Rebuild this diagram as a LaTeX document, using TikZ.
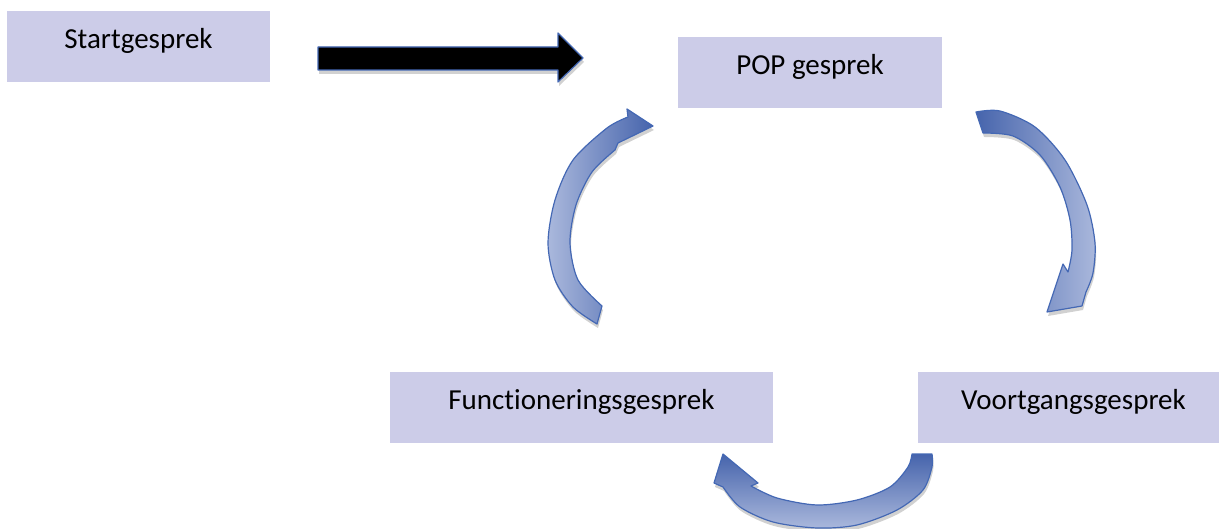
\documentclass[tikz,border=0pt]{standalone}
\usepackage{fontspec}
\setmainfont{Carlito}[Ligatures=NoCommon]
\usetikzlibrary{shadows}
\definecolor{lila}{RGB}{204,204,232}
\definecolor{donker}{RGB}{70,100,172}
\definecolor{licht}{RGB}{170,184,220}
\definecolor{rand}{RGB}{68,104,180}
\tikzset{
  vak/.style={fill=lila, minimum height=71pt, inner sep=0pt,
    text height=10pt, text depth=6pt, font=\fontsize{29}{35}\selectfont},
  boog/.style={draw=rand, line width=1.2pt, line join=round,
    drop shadow={shadow xshift=1pt, shadow yshift=-4pt, opacity=0.3, fill=black!60}}
}
\begin{document}
\begin{tikzpicture}[x=1pt,y=-1pt]
            \useasboundingbox (0,0) rectangle (1219,529);
            % Draw the four boxes
            \node[vak, minimum width=263pt] (start) at (138.5,47) {Startgesprek};
            \node[vak, minimum width=264pt] (pop) at (810,72.5) {POP gesprek};
            \node[vak, minimum width=383pt] (func) at (581.5,407.5) {Functioneringsgesprek};
            \node[vak, minimum width=311pt] (voort) at (1073.5,407.5) {Voortgangsgesprek};
            % Draw the straight black arrow
            \draw[boog, fill=black] (318,47) -- (558,47) -- (558,33) -- (583,58)
              -- (558,82) -- (558,70) -- (318,70) -- cycle;
            % Draw curved arrow on the right
            \draw[boog, left color=donker, right color=licht]
              plot[smooth] coordinates {(976,112) (1000,111) (1035,127) (1065,160) (1087,205) (1095,243) (1093,273) (1086,292)}
              -- (1082,306) -- (1047,312) -- (1063,264) -- (1068,272)
              -- plot[smooth] coordinates {(1068,272) (1072,250) (1070,220) (1060,187) (1040,155) (1013,136) (983,133)}
              -- cycle;
            % Draw curved arrow at the bottom
            \draw[boog, top color=donker, bottom color=licht]
              plot[smooth] coordinates {(932,454) (932,467) (923,490) (897,510) (857,525) (817,528) (773,522) (740,507) (723,487)}
              -- (714,483) -- (723,454) -- (758,483) -- (751,486)
              -- plot[smooth] coordinates {(751,486) (777,498) (817,505) (857,500) (890,487) (908,467) (912,454)}
              -- cycle;
            % Draw curved arrow on the left
            \draw[boog, left color=licht, right color=donker]
              plot[smooth] coordinates {(597,324) (573,307) (555,280) (548,243) (555,200) (573,160) (607,128) (628,117)}
              -- (627,109) -- (653,126) -- (618,143) -- (615,150)
              -- plot[smooth] coordinates {(615,150) (592,172) (576,205) (570,243) (578,280) (602,306)}
              -- cycle;
        \end{tikzpicture}
\end{document}
